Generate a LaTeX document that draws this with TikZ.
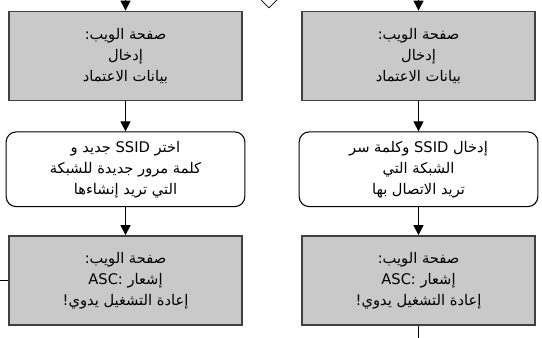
\documentclass[tikz,border=0pt]{standalone}
\usepackage{fontspec}
\setmainfont{DejaVu Sans}
\newfontfamily\arabicfont[Script=Arabic]{DejaVu Sans}
\TeXXeTstate=1
\usetikzlibrary{shapes.geometric,arrows.meta,positioning}

\begin{document}
\begin{tikzpicture}[
    x=0.75pt, y=-0.75pt,
    node distance=22pt,
    txt/.style={align=center, font=\arabicfont\fontsize{11}{15.75}\selectfont},
    box/.style={rectangle, draw=black!75, line width=1.1pt, fill=black!21, minimum width=175pt, minimum height=67pt, txt},
    rbox/.style={rectangle, rounded corners=7.5pt, draw, line width=0.8pt, fill=white, minimum width=179pt, minimum height=56pt, txt},
    arrow/.style={-{Triangle[width=7.5pt,length=7.5pt]}, line width=0.75pt},
    line/.style={line width=0.75pt}
]
\useasboundingbox (0,0) rectangle (542,338);
\clip (0,0) rectangle (542,338);
\path (0,0) coordinate (edge) (0,338) coordinate (bot);

\node[diamond, draw, line width=0.6pt, minimum width=45pt, minimum height=45pt, inner sep=0pt] (check) at (269,-22) {};

% left column
\node[box] (web1) at (125.5,56) {\beginR صفحة الويب:\endR\\ \beginR إدخال\endR\\ \beginR بيانات الاعتماد\endR};
\node[rbox, below=22.5pt of web1] (newap) {\beginR اختر SSID جديد و\endR\\ \beginR كلمة مرور جديدة للشبكة\endR\\ \beginR التي تريد إنشاءها\endR};
\node[box, below=21pt of newap] (note1) {\beginR صفحة الويب:\endR\\ \beginR إشعار ASC:\endR\\ \beginR إعادة التشغيل يدوي!\endR};

% right column
\node[box] (web2) at (418.5,56) {\beginR صفحة الويب:\endR\\ \beginR إدخال\endR\\ \beginR بيانات الاعتماد\endR};
\node[rbox, below=22.5pt of web2] (join) {\beginR إدخال SSID وكلمة سر\endR\\ \beginR الشبكة التي\endR\\ \beginR تريد الاتصال بها\endR};
\node[box, below=21pt of join] (note2) {\beginR صفحة الويب:\endR\\ \beginR إشعار ASC:\endR\\ \beginR إعادة التشغيل يدوي!\endR};

\coordinate (inL) at (web1.north |- edge);
\coordinate (inR) at (web2.north |- edge);
\coordinate (sideL) at (edge |- note1.west);
\coordinate (outR) at (note2.south |- bot);

\draw[arrow] (inL) -- (web1);
\draw[arrow] (web1) -- (newap);
\draw[arrow] (newap) -- (note1);
\draw[arrow] (inR) -- (web2);
\draw[arrow] (web2) -- (join);
\draw[arrow] (join) -- (note2);
\draw[line] (sideL) -- (note1.west);
\draw[line] (note2) -- (outR);
\end{tikzpicture}
\end{document}
